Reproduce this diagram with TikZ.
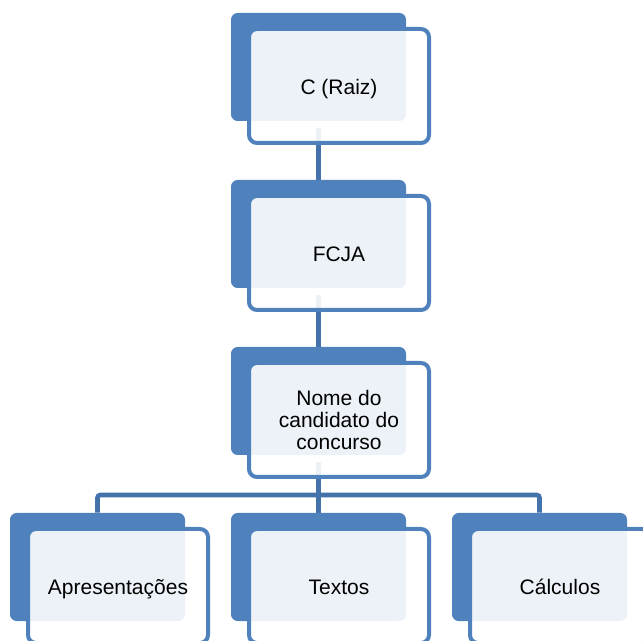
\documentclass[tikz,border=0pt]{standalone}
\usepackage{fontspec}
\setmainfont{Liberation Sans}
\usetikzlibrary{positioning,backgrounds}

\definecolor{boxblue}{RGB}{79,129,189}
\definecolor{linkblue}{RGB}{68,114,171}

\tikzset{
  backbox/.style={fill=boxblue, rounded corners=5pt, minimum width=131.25pt,
    minimum height=81pt, inner sep=0pt},
  frontbox/.style={draw=boxblue, line width=3pt, fill=white, fill opacity=0.9,
    text opacity=1, rounded corners=6pt, minimum width=135pt, minimum height=85.5pt,
    inner sep=0pt, align=center, font=\fontsize{15.75}{16.5}\selectfont},
  oneline/.style={text height=13pt, text depth=0pt},
  link/.style={draw=linkblue, line width=3.4pt, rounded corners=2pt}
}

\begin{document}
\begin{tikzpicture}[x=0.75pt,y=-0.75pt]
\clip (0,0) rectangle (643,641);

% chain of levels
\node[backbox] (root) at (318.5,67) {};
\node[frontbox,oneline] (rootf) at ([shift={(20.5,19)}]root) {C (Raiz)};

\node[backbox] (fcja) at (318.5,234) {};
\node[frontbox,oneline] (fcjaf) at ([shift={(20.5,19)}]fcja) {FCJA};

\node[backbox] (nome) at (318.5,401) {};
\node[frontbox] (nomef) at ([shift={(20.5,19)}]nome) {Nome do\\candidato do\\concurso};

% leaves
\foreach \x/\n/\t in {97.5/apres/Apresentações, 318.5/textos/Textos, 539.5/calc/Cálculos}
{
  \node[backbox] (\n) at (\x,567) {};
  \node[frontbox,oneline] (\n f) at ([shift={(20.5,19)}]\n) {\t};
}

\coordinate (bus) at (318.5,495);

\begin{pgfonlayer}{background}
\draw[link,shorten <=5pt] (root.south) -- (fcja.north);
\draw[link,shorten <=5pt] (fcja.south) -- (nome.north);
\draw[link,shorten <=5pt] (nome.south) -- (bus);
\draw[link] (apres.north) |- (bus) -| (calc.north);
\draw[link] (bus) -- (textos.north);
\end{pgfonlayer}

\end{tikzpicture}
\end{document}
